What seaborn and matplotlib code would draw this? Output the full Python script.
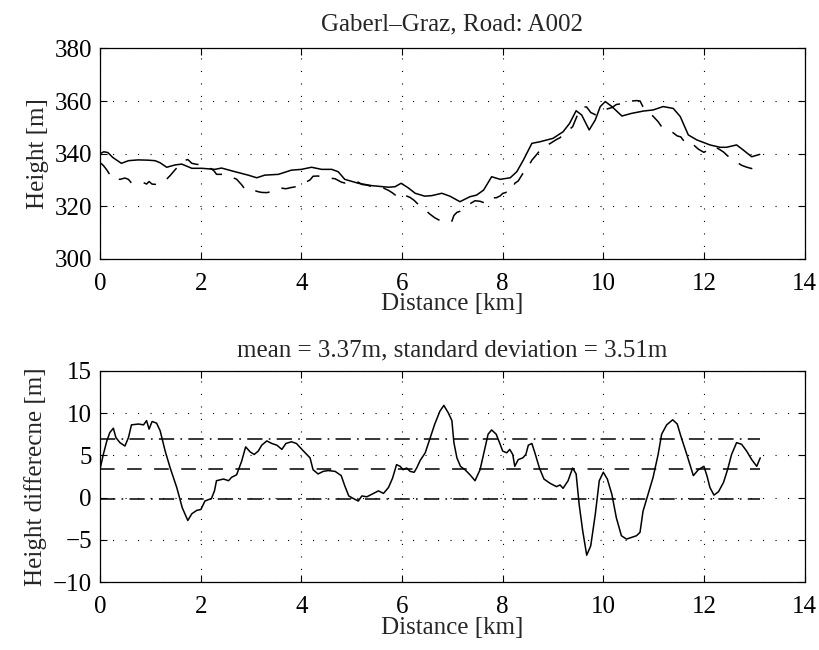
import numpy as np
import matplotlib
matplotlib.use("Agg")
import matplotlib.pyplot as plt
import seaborn as sns

# Height profile along the road (solid line), distance in km, height in m
profile_km = [0.00, 0.07, 0.15, 0.25, 0.42, 0.56, 0.75, 0.95, 1.09, 1.19, 1.32, 1.49,
              1.62, 1.82, 2.02, 2.28, 2.41, 2.68, 2.94, 3.11, 3.27, 3.54, 3.80, 4.00,
              4.20, 4.40, 4.60, 4.73, 4.86, 5.13, 5.40, 5.73, 5.86, 5.98, 6.12, 6.26,
              6.45, 6.59, 6.79, 6.95, 7.15, 7.35, 7.48, 7.62, 7.78, 7.95, 8.15, 8.28,
              8.41, 8.58, 8.74, 9.00, 9.20, 9.33, 9.46, 9.57, 9.72, 9.84, 9.94, 10.04,
              10.17, 10.37, 10.56, 10.80, 10.99, 11.19, 11.39, 11.53, 11.69, 11.86,
              12.12, 12.32, 12.45, 12.65, 12.78, 12.95, 13.11]
profile_h = [340.0, 340.7, 340.4, 338.5, 336.3, 337.3, 337.6, 337.5, 337.3, 336.5, 334.8, 335.7,
             336.0, 334.4, 334.4, 334.0, 334.5, 333.1, 331.8, 330.8, 331.8, 332.1, 333.7, 334.0,
             334.8, 334.0, 334.0, 333.1, 330.2, 328.7, 327.8, 327.2, 327.4, 328.7, 327.0, 324.9,
             323.8, 324.0, 324.9, 323.8, 321.7, 323.6, 324.2, 326.1, 331.2, 330.2, 330.8, 333.1,
             337.5, 343.9, 344.5, 345.8, 348.3, 351.5, 356.3, 354.7, 349.0, 352.8, 357.9, 359.8,
             357.9, 354.3, 355.3, 356.2, 356.6, 357.9, 357.2, 354.1, 347.1, 345.2,
             343.3, 342.4, 342.4, 343.3, 341.4, 338.8, 339.7]

# Height difference between the two profiles (m)
diff_km = [0.00, 0.06, 0.13, 0.19, 0.26, 0.31, 0.39, 0.49, 0.56, 0.62, 0.76, 0.86, 0.92,
           0.97, 1.03, 1.12, 1.19, 1.29, 1.39, 1.52, 1.63, 1.74, 1.82, 1.92, 2.00, 2.08,
           2.21, 2.27, 2.31, 2.45, 2.55, 2.61, 2.71, 2.81, 2.89, 2.98, 3.06, 3.14, 3.21,
           3.31, 3.41, 3.51, 3.61, 3.69, 3.80, 3.90, 4.04, 4.17, 4.23, 4.33, 4.43, 4.53,
           4.67, 4.79, 4.86, 4.94, 5.03, 5.13, 5.20, 5.30, 5.40, 5.53, 5.63, 5.73, 5.81,
           5.89, 5.96, 6.02, 6.09, 6.16, 6.24, 6.29, 6.36, 6.46, 6.56, 6.65, 6.75, 6.83,
           6.92, 6.99, 7.03, 7.09, 7.16, 7.25, 7.35, 7.45, 7.55, 7.65, 7.71, 7.78, 7.87,
           7.95, 8.00, 8.08, 8.14, 8.20, 8.24, 8.31, 8.40, 8.46, 8.51, 8.58, 8.64, 8.73,
           8.82, 8.94, 9.07, 9.14, 9.20, 9.30, 9.39, 9.46, 9.52, 9.59, 9.67, 9.75, 9.84,
           9.92, 10.00, 10.08, 10.17, 10.26, 10.36, 10.46, 10.56, 10.66, 10.73, 10.79,
           10.89, 10.99, 11.09, 11.16, 11.26, 11.38, 11.47, 11.54, 11.66, 11.79, 11.89,
           12.00, 12.06, 12.12, 12.20, 12.29, 12.39, 12.47, 12.55, 12.65, 12.75, 12.85,
           12.95, 13.05, 13.12]
diff_m = [3.5, 5.1, 6.7, 7.7, 8.2, 7.1, 6.5, 6.1, 7.1, 8.6, 8.7, 8.6, 9.1,
          8.1, 9.0, 8.8, 7.9, 5.5, 3.5, 1.2, -1.2, -2.7, -1.9, -1.5, -1.4, -0.4,
          -0.1, 0.8, 2.0, 2.2, 2.0, 2.4, 2.7, 4.3, 6.0, 5.4, 5.1, 5.5, 6.2,
          6.7, 6.4, 6.2, 5.7, 6.4, 6.6, 6.4, 5.5, 4.7, 3.3, 2.8, 3.1, 3.2,
          3.1, 2.6, 1.4, 0.2, -0.1, -0.4, 0.2, 0.1, 0.4, 0.8, 0.5, 1.2, 2.3,
          3.9, 3.7, 3.3, 3.5, 3.1, 3.0, 3.5, 4.4, 5.3, 7.1, 8.7, 10.2, 10.9,
          10.0, 9.1, 6.5, 4.7, 3.7, 3.3, 2.7, 2.0, 3.3, 5.9, 7.5, 8.0, 7.5,
          6.3, 5.5, 5.3, 5.7, 5.1, 3.7, 4.5, 4.7, 5.1, 6.2, 6.4, 5.3, 3.5,
          2.2, 1.7, 1.3, 1.5, 1.1, 2.0, 3.5, 2.8, -0.8, -3.9, -6.8, -5.7, -2.0,
          2.0, 3.0, 2.2, 0.4, -2.4, -4.5, -4.9, -4.7, -4.5, -4.1, -1.6,
          0.4, 2.4, 5.1, 7.5, 8.6, 9.2, 8.7, 7.3, 5.1, 2.6, 3.3,
          3.7, 2.6, 1.2, 0.3, 0.7, 1.8, 3.3, 5.1, 6.5, 6.3, 5.5,
          4.5, 3.7, 4.7]

mean_diff = 3.37
std_diff = 3.51

title_top = "Gaberl\u2013Graz, Road: A002"
title_bottom = f"mean = {mean_diff:.2f}m, standard deviation = {std_diff:.2f}m"
x_ticks = list(range(0, 15, 2))
top_yticks = [300, 320, 340, 360, 380]
bottom_yticks = [-10, -5, 0, 5, 10, 15]

# Second profile follows from the first one minus the difference
profile2_h = np.interp(diff_km, profile_km, profile_h) - np.array(diff_m)

sns.set_style("ticks")
plt.rcParams["font.family"] = ["Liberation Serif", "DejaVu Serif"]
plt.rcParams["font.size"] = 18
plt.rcParams["lines.scale_dashes"] = False
plt.rcParams["axes.unicode_minus"] = True

fig = plt.figure(figsize=(8.2, 6.5), dpi=100)
ax1 = fig.add_axes([0.1223, 0.6020, 0.8588, 0.3234])
ax2 = fig.add_axes([0.1223, 0.1042, 0.8588, 0.3255])

dash = (0, (10.5, 9.0))
dashdot = (0, (11.0, 4.5, 1.2, 4.5))

sns.lineplot(x=profile_km, y=profile_h, ax=ax1, color="black", linewidth=1.1,
             estimator=None, sort=False)
sns.lineplot(x=diff_km, y=profile2_h, ax=ax1, color="black", linewidth=1.1,
             estimator=None, sort=False, linestyle=dash)

sns.lineplot(x=diff_km, y=diff_m, ax=ax2, color="black", linewidth=1.1,
             estimator=None, sort=False)
x_span = [diff_km[0], diff_km[-1]]
sns.lineplot(x=x_span, y=[mean_diff] * 2, ax=ax2, color="black", linewidth=1.1,
             linestyle=dash)
sns.lineplot(x=x_span, y=[mean_diff + std_diff] * 2, ax=ax2, color="black",
             linewidth=1.1, linestyle=dashdot)
sns.lineplot(x=x_span, y=[mean_diff - std_diff] * 2, ax=ax2, color="black",
             linewidth=1.1, linestyle=dashdot)

for ax, yt in ((ax1, top_yticks), (ax2, bottom_yticks)):
    ax.set_xlim(0, 14)
    ax.set_ylim(yt[0], yt[-1])
    ax.set_xticks(x_ticks)
    ax.set_yticks(yt)
    ax.grid(True, color="black", linestyle=(0, (0.8, 8.2)), linewidth=0.8)
    ax.tick_params(direction="in", length=5, width=0.8, top=True, right=True,
                   labelsize=18, colors="black")
    ax.tick_params(axis="x", pad=10)
    ax.tick_params(axis="y", pad=6)
    for s in ax.spines.values():
        s.set_visible(True)
        s.set_linewidth(0.9)
        s.set_color("black")
    ax.set_xlabel("Distance [km]", fontsize=18, labelpad=-1)

ax1.set_ylabel("Height [m]", fontsize=18, labelpad=4)
ax2.set_ylabel("Height differecne [m]", fontsize=18, labelpad=4)
ax1.set_title(title_top, fontsize=18, pad=13)
ax2.set_title(title_bottom, fontsize=18, pad=10)

fig.savefig("out.png", dpi=100)
